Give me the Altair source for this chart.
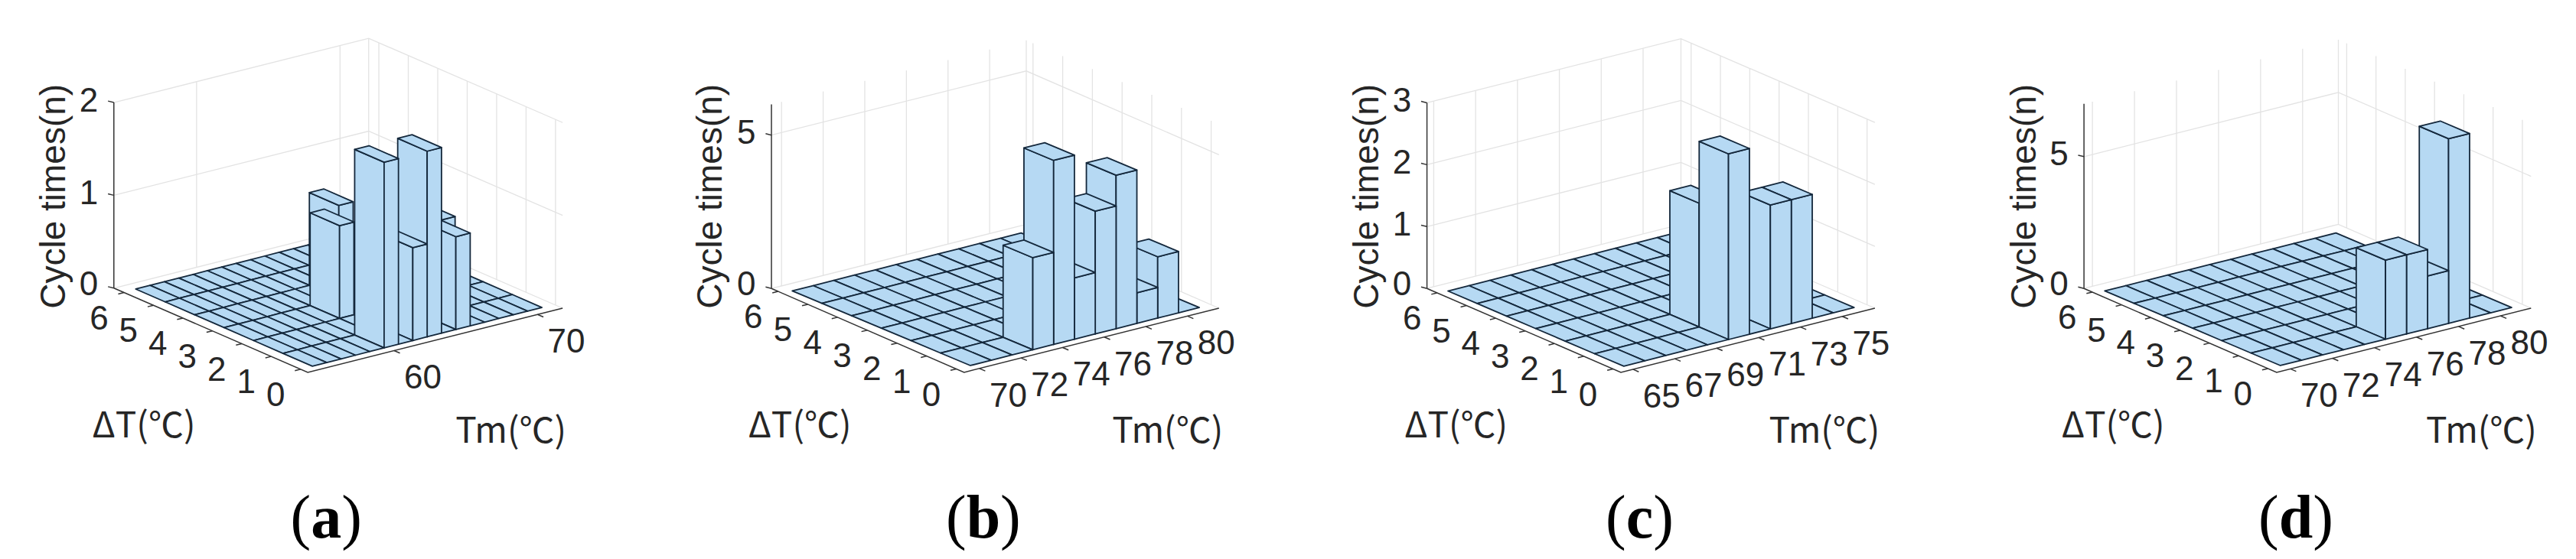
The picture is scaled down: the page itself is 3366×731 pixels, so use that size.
import altair as alt
import pandas as pd

alt.data_transformers.disable_max_rows()

# ---- values: occupied bins (all other bins are 0) ----
a_tm = [60, 62, 63, 65, 66, 61, 63]
a_dt = [0, 0, 0, 0, 1, 2, 3]
a_n = [2, 1, 2, 1, 1, 1, 1]
b_tm = [73, 74, 75, 76, 77, 78, 79]
b_dt = [0, 0, 0, 0, 0, 0, 0]
b_n = [3, 6, 2, 4, 5, 1, 2]
c_tm = [70, 70, 72, 73]
c_dt = [0, 1, 0, 0]
c_n = [3, 2, 2, 2]
d_tm = [75, 76, 77, 78]
d_dt = [0, 0, 0, 0]
d_n = [3, 3, 2, 7]

a_tm_ticks = [60, 70]
b_tm_ticks = [70, 72, 74, 76, 78, 80]
c_tm_ticks = [65, 67, 69, 71, 73, 75]
d_tm_ticks = [70, 72, 74, 76, 78, 80]
dt_ticks = [0, 1, 2, 3, 4, 5, 6]
a_z_ticks = [0, 1, 2]
b_z_ticks = [0, 5]
c_z_ticks = [0, 1, 2, 3]
d_z_ticks = [0, 5]

SX, SY = 1.835, 2.134
panels = [
    dict(ox=0, letter="a", tm=a_tm, dt=a_dt, n=a_n, tmt=a_tm_ticks, zt=a_z_ticks, zmax=2, first=55, cols=16,
         tm0=54.8, L=(273, 804), F=(738, 1039), R=(1349, 860), Ff=(749, 1022), u=(34.4, -10.25), v=(-70.6, -35.9), h=259,
         cyc=130, dtl=(345, 1190), tml=(1225, 1205), lab=782),
    dict(ox=850, letter="b", tm=b_tm, dt=b_dt, n=b_n, tmt=b_tm_ticks, zt=b_z_ticks, zmax=6, first=70, cols=11,
         tm0=69.94, L=(290, 805), F=(752, 1039), R=(1363, 860), Ff=(767, 1020), u=(49.9, -14.7), v=(-71.2, -34.7), h=85.6,
         cyc=145, dtl=(358, 1190), tml=(1240, 1205), lab=798),
    dict(ox=1700, letter="c", tm=c_tm, dt=c_dt, n=c_n, tmt=c_tm_ticks, zt=c_z_ticks, zmax=3, first=65, cols=11,
         tm0=64.94, L=(302, 805), F=(767, 1039), R=(1376, 860), Ff=(774, 1022), u=(50.2, -14.9), v=(-70.3, -35), h=172.7,
         cyc=160, dtl=(372, 1190), tml=(1255, 1205), lab=812),
    dict(ox=2516, letter="d", tm=d_tm, dt=d_dt, n=d_n, tmt=d_tm_ticks, zt=d_z_ticks, zmax=7, first=70, cols=11,
         tm0=69.94, L=(380, 805), F=(842, 1039), R=(1452, 860), Ff=(851, 1020), u=(50.4, -14.7), v=(-70.2, -34.7), h=73.6,
         cyc=238, dtl=(450, 1190), tml=(1333, 1205), lab=888),
]

ROWS = 6
LABEL_SIZE = 80
polys, grids, axes, texts = [], [], [], []
pid = 0


def add(store, pts, ox):
    global pid
    pid += 1
    for k, (x, y) in enumerate(pts):
        store.append(dict(id=pid, k=k, x=ox + x / SX, y=y / SY))


def add_text(kind, s, x, y, ox):
    texts.append(dict(kind=kind, s=s, x=ox + x / SX, y=y / SY))


for p in panels:
    ox, u, v, h, Ff, F, L, R = p["ox"], p["u"], p["v"], p["h"], p["Ff"], p["F"], p["L"], p["R"]
    B = (L[0] + R[0] - F[0], L[1] + R[1] - F[1])
    heights = {(t - p["first"], d): n for t, d, n in zip(p["tm"], p["dt"], p["n"])}

    def P(i, j, z=0):
        return (Ff[0] + i * u[0] + j * v[0], Ff[1] + i * u[1] + j * v[1] - z * h)

    # where the floor corner sits in axis units, measured from the box corner
    dx, dy = Ff[0] - F[0], Ff[1] - F[1]
    det = u[0] * v[1] - u[1] * v[0]
    a0 = (dx * v[1] - dy * v[0]) / det
    b0 = (u[0] * dy - u[1] * dx) / det
    ku = (R[0] - F[0]) / u[0]
    kv = (L[0] - F[0]) / v[0]
    ub = ((R[0] - F[0]) / ku, (R[1] - F[1]) / ku)
    vb = ((L[0] - F[0]) / kv, (L[1] - F[1]) / kv)
    zmax = p["zmax"]

    # walls: gridlines
    for z in p["zt"]:
        add(grids, [(L[0], L[1] - z * h), (B[0], B[1] - z * h), (R[0], R[1] - z * h)], ox)
    add(grids, [(B[0], B[1]), (B[0], B[1] - zmax * h)], ox)
    for t in p["tmt"]:
        s = a0 - 0.25 + t - p["tm0"]
        q = (L[0] + s * ub[0], L[1] + s * ub[1])
        add(grids, [q, (q[0], q[1] - zmax * h)], ox)
    for d in dt_ticks:
        s = b0 + d
        q = (R[0] + s * vb[0], R[1] + s * vb[1])
        add(grids, [q, (q[0], q[1] - zmax * h)], ox)

    # axes and ticks
    add(axes, [L, F, R], ox)
    add(axes, [L, (L[0], L[1] - zmax * h)], ox)
    for z in p["zt"]:
        q = (L[0], L[1] - z * h)
        add(axes, [q, (q[0] - 14, q[1] - 4)], ox)
        add_text("tick", str(z), q[0] - 60, q[1] - (9 if z == 0 else 3), ox)
    for t in p["tmt"]:
        s = a0 + t - p["tm0"]
        q = (F[0] + s * ub[0], F[1] + s * ub[1])
        add(axes, [q, (q[0] + 14, q[1] + 7)], ox)
        add_text("tick", str(t), q[0] + 69, q[1] + 79, ox)
    for d in dt_ticks:
        s = b0 + d
        q = (F[0] + s * vb[0], F[1] + s * vb[1])
        add(axes, [q, (q[0] - 14, q[1] + 4)], ox)
        add_text("tick", str(d), q[0] - 60, q[1] + 75, ox)

    # bars, painted back to front
    for j in range(ROWS - 1, -1, -1):
        for i in range(p["cols"] - 1, -1, -1):
            n = heights.get((i, j), 0)
            if n > 0:
                add(polys, [P(i, j), P(i, j + 1), P(i, j + 1, n), P(i, j, n)], ox)
                add(polys, [P(i, j), P(i + 1, j), P(i + 1, j, n), P(i, j, n)], ox)
            add(polys, [P(i, j, n), P(i + 1, j, n), P(i + 1, j + 1, n), P(i, j + 1, n)], ox)

    add_text("side", "Cycle times(n)", p["cyc"], 548, ox)
    add_text("title", "ΔT(℃)", p["dtl"][0], p["dtl"][1], ox)
    add_text("title", "Tm(℃)", p["tml"][0], p["tml"][1], ox)
    lx = ox + p["lab"] / SX
    wide = {"a": 0.5, "b": 0.556, "c": 0.444, "d": 0.556}[p["letter"]]
    gap = (0.333 + wide) / 2 * LABEL_SIZE
    texts.append(dict(kind="paren", s="(", x=lx - gap, y=1450 / SY))
    texts.append(dict(kind="letter", s=p["letter"], x=lx, y=1450 / SY))
    texts.append(dict(kind="paren", s=")", x=lx + gap, y=1450 / SY))

W, H = 3350, 715
X = alt.X("x:Q", scale=alt.Scale(domain=[8, 8 + W], nice=False, zero=False), axis=None)
Y = alt.Y("y:Q", scale=alt.Scale(domain=[8 + H, 8], nice=False, zero=False), axis=None)
T = pd.DataFrame(texts)


def path_layer(rows, **mark):
    return alt.Chart(pd.DataFrame(rows)).mark_line(**mark).encode(
        x=X, y=Y, detail="id:N", order="k:Q"
    )


def text_layer(kind, **mark):
    return alt.Chart(T[T.kind == kind]).mark_text(**mark).encode(x=X, y=Y, text="s:N")


SANS = "Liberation Sans"
CJK = "Noto Sans CJK SC"
INK = "#262626"
chart = alt.layer(
    path_layer(grids, color="#e3e3e3", strokeWidth=1.3),
    path_layer(axes, color="#333333", strokeWidth=1.5),
    path_layer(polys, fill="#b6d9f3", stroke="#14283c", strokeWidth=1.8,
               interpolate="linear-closed", strokeJoin="round"),
    text_layer("tick", font=SANS, fontSize=44, color=INK, align="center", baseline="middle"),
    text_layer("title", font=CJK, fontSize=46, color=INK, align="center", baseline="middle"),
    text_layer("side", font=SANS, fontSize=46, color=INK, align="center", baseline="middle", angle=270),
    text_layer("paren", font="Liberation Serif", fontSize=LABEL_SIZE, color="#000000", align="center", baseline="middle"),
    text_layer("letter", font="Liberation Serif", fontSize=LABEL_SIZE, fontWeight="bold", color="#000000",
               align="center", baseline="middle"),
).properties(width=W, height=H, padding=0, background="white"
).configure_view(stroke=None)

chart.save("out.html", embed_options={"renderer": "svg", "actions": False})
